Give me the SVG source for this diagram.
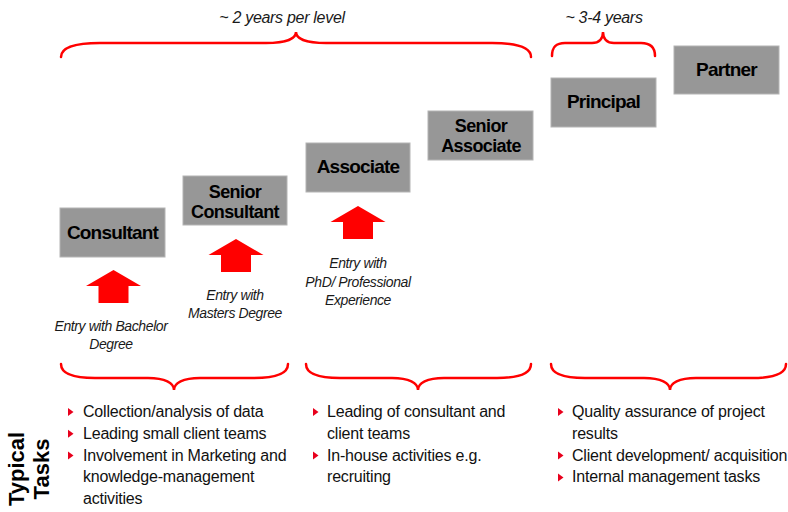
<svg xmlns="http://www.w3.org/2000/svg" xmlns:xlink="http://www.w3.org/1999/xlink" width="788" height="512" viewBox="0 0 788 512">
<style>
.box{fill:#979797;stroke:#b4b4b4;stroke-width:1}
.bt{font-family:"Liberation Sans",Arial,sans-serif;font-weight:bold;font-size:19px;letter-spacing:-0.8px;fill:#000;text-anchor:middle}
.bt2{font-family:"Liberation Sans",Arial,sans-serif;font-weight:bold;font-size:18px;letter-spacing:-0.6px;fill:#000;text-anchor:middle}
.et{font-family:"Liberation Sans",Arial,sans-serif;font-style:italic;font-size:14px;letter-spacing:-0.4px;fill:#1a1a1a;text-anchor:middle}
.yt{font-family:"Liberation Sans",Arial,sans-serif;font-style:italic;font-size:16px;letter-spacing:-0.3px;fill:#1a1a1a;text-anchor:middle}
.lt{font-family:"Liberation Sans",Arial,sans-serif;font-size:16px;letter-spacing:-0.2px;fill:#111}
.tt{font-family:"Liberation Sans",Arial,sans-serif;font-weight:bold;font-size:22px;fill:#000;text-anchor:middle}
.brace{fill:none;stroke:#ff0000;stroke-width:2.5;stroke-linecap:round}
.arrow{fill:#ff0000}
.bul{fill:#e8001c}
</style>
<defs>
<path id="arr" d="M0,0 L27.5,16 L15,16 L15,33 L-15,33 L-15,16 L-27.5,16 Z"/>
<path id="bullet" d="M0,-9 L5.5,-5 L0,-1 Z"/>
</defs>
<rect width="788" height="512" fill="#fff"/>

<g id="braces">
<path class="brace" d="M61,57 C61,47 76,43 100,43 L266,43 C285,43 296,39 296,32 C296,39 307,43 326,43 L492,43 C516,43 531,47 531,57"/>
<path class="brace" d="M552,56 C552,47 556,43 565,43 L592,43 C599,43 603,39 603,32 C603,39 607,43 614,43 L641,43 C650,43 655,47 655,56"/>
<path class="brace" d="M61,364 C61,374 75,378 95,378 L148,378 C165,378 174,383 174,390 C174,383 183,378 200,378 L254,378 C274,378 288,374 288,364"/>
<path class="brace" d="M306,364 C306,374 320,378 340,378 L392,378 C409,378 418,383 418,390 C418,383 427,378 444,378 L497,378 C517,378 531,374 531,364"/>
<path class="brace" d="M551,364 C551,374 565,378 585,378 L644,378 C661,378 670,383 670,390 C670,383 679,378 696,378 L752,378 C772,378 786,374 786,364"/>
</g>

<g id="period-labels">
<text class="yt" x="282" y="23">~ 2 years per level</text>
<text class="yt" x="604" y="23">~ 3-4 years</text>
</g>

<g id="consultant">
<rect class="box" x="60" y="208" width="105" height="49"/>
<text class="bt" x="112.5" y="239">Consultant</text>
</g>
<g id="senior-consultant">
<rect class="box" x="183" y="176" width="104" height="49"/>
<text class="bt2" x="235" y="198"><tspan x="235" y="198">Senior</tspan><tspan x="235" y="218">Consultant</tspan></text>
</g>
<g id="associate">
<rect class="box" x="306" y="143" width="104" height="49"/>
<text class="bt" x="358" y="173">Associate</text>
</g>
<g id="senior-associate">
<rect class="box" x="428" y="111" width="105" height="49"/>
<text class="bt2" x="481" y="132"><tspan x="481" y="132">Senior</tspan><tspan x="481" y="152">Associate</tspan></text>
</g>
<g id="principal">
<rect class="box" x="551" y="78" width="105" height="49"/>
<text class="bt" x="603.5" y="108">Principal</text>
</g>
<g id="partner">
<rect class="box" x="674" y="46" width="105" height="48"/>
<text class="bt" x="726.5" y="76">Partner</text>
</g>

<g id="entry-arrows">
<use xlink:href="#arr" href="#arr" class="arrow" transform="translate(113.5,270)"/>
<use xlink:href="#arr" href="#arr" class="arrow" transform="translate(236,239)"/>
<use xlink:href="#arr" href="#arr" class="arrow" transform="translate(358,206)"/>
</g>

<g id="entry-labels">
<text class="et" x="111" y="331">Entry with Bachelor</text>
<text class="et" x="111" y="349">Degree</text>
<text class="et" x="235" y="300">Entry with</text>
<text class="et" x="235" y="318">Masters Degree</text>
<text class="et" x="358" y="268">Entry with</text>
<text class="et" x="358" y="287">PhD/ Professional</text>
<text class="et" x="358" y="305">Experience</text>
</g>

<g id="typical-tasks">
<text class="tt" transform="translate(24,469) rotate(-90)"><tspan x="0" y="0">Typical</tspan><tspan x="0" y="25">Tasks</tspan></text>
</g>

<g id="tasks-1">
<use xlink:href="#bullet" href="#bullet" class="bul" transform="translate(68,417)"/>
<use xlink:href="#bullet" href="#bullet" class="bul" transform="translate(68,438.8)"/>
<use xlink:href="#bullet" href="#bullet" class="bul" transform="translate(68,460.6)"/>
<text class="lt" x="83" y="417">Collection/analysis of data</text>
<text class="lt" x="83" y="438.8">Leading small client teams</text>
<text class="lt" x="83" y="460.6">Involvement in Marketing and</text>
<text class="lt" x="83" y="482.4">knowledge-management</text>
<text class="lt" x="83" y="504.2">activities</text>
</g>
<g id="tasks-2">
<use xlink:href="#bullet" href="#bullet" class="bul" transform="translate(313,417)"/>
<use xlink:href="#bullet" href="#bullet" class="bul" transform="translate(313,460.6)"/>
<text class="lt" x="327" y="417">Leading of consultant and</text>
<text class="lt" x="327" y="438.8">client teams</text>
<text class="lt" x="327" y="460.6">In-house activities e.g.</text>
<text class="lt" x="327" y="482.4">recruiting</text>
</g>
<g id="tasks-3">
<use xlink:href="#bullet" href="#bullet" class="bul" transform="translate(558,417)"/>
<use xlink:href="#bullet" href="#bullet" class="bul" transform="translate(558,460.6)"/>
<use xlink:href="#bullet" href="#bullet" class="bul" transform="translate(558,482.4)"/>
<text class="lt" x="572" y="417">Quality assurance of project</text>
<text class="lt" x="572" y="438.8">results</text>
<text class="lt" x="572" y="460.6">Client development/ acquisition</text>
<text class="lt" x="572" y="482.4">Internal management tasks</text>
</g>
</svg>
